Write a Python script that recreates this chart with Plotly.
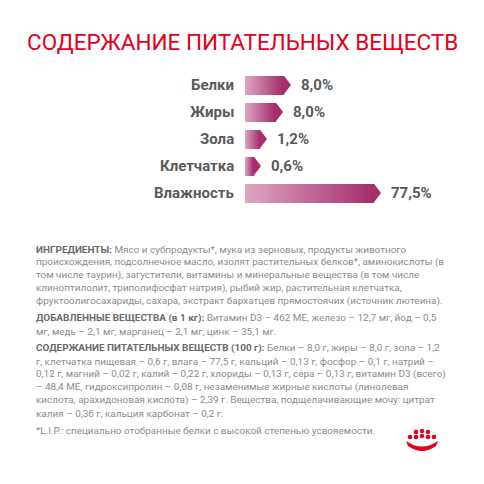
import plotly.graph_objects as go

# nutrient rows (value text and drawn bar length in px as in the picture)
nutrients = ["Белки", "Жиры", "Зола", "Клетчатка", "Влажность"]
values = ["8,0%", "8,0%", "1,2%", "0,6%", "77,5%"]
bar_len = [46, 38, 22, 16, 136]

title = "СОДЕРЖАНИЕ ПИТАТЕЛЬНЫХ ВЕЩЕСТВ"

text_lines = [
    "<b>ИНГРЕДИЕНТЫ:</b> Мясо и субпродукты*, мука из зерновых, продукты животного",
    "происхождения, подсолнечное масло, изолят растительных белков*, аминокислоты (в",
    "том числе таурин), загустители, витамины и минеральные вещества (в том числе",
    "клиноптилолит, триполифосфат натрия), рыбий жир, растительная клетчатка,",
    "фруктоолигосахариды, сахара, экстракт бархатцев прямостоячих (источник лютеина).",
    None,
    "<b>ДОБАВЛЕННЫЕ ВЕЩЕСТВА (в 1 кг):</b> Витамин D3 – 462 МЕ, железо – 12,7 мг, йод – 0,5",
    "мг, медь – 2,1 мг, марганец – 2,1 мг, цинк – 35,1 мг.",
    None,
    "<b>СОДЕРЖАНИЕ ПИТАТЕЛЬНЫХ ВЕЩЕСТВ (100 г):</b> Белки – 8,0 г, жиры – 8,0 г, зола – 1,2",
    "г, клетчатка пищевая – 0,6 г, влага – 77,5 г, кальций – 0,13 г, фосфор – 0,1 г, натрий –",
    "0,12 г, магний – 0,02 г, калий – 0,22 г, хлориды – 0,13 г, сера – 0,13 г, витамин D3 (всего)",
    "– 48,4 МЕ, гидроксипролин – 0,08 г, незаменимые жирные кислоты (линолевая",
    "кислота, арахидоновая кислота) – 2,39 г. Вещества, подщелачивающие мочу: цитрат",
    "калия – 0,36 г, кальция карбонат – 0,2 г.",
    None,
    "*L.I.P.: специально отобранные белки с высокой степенью усвояемости.",
]

W = H = 484
X0 = 245
rows = list(range(len(nutrients)))
row_y = [85 + 27 * i for i in rows]
tip = 7
rect = [l - tip for l in bar_len]

c0 = (220, 166, 195)
c1 = (166, 47, 107)
nseg = 30

fig = go.Figure()
for k in range(nseg):
    t = k / (nseg - 1)
    col = "rgb(%d,%d,%d)" % tuple(int(a + (b - a) * t) for a, b in zip(c0, c1))
    fig.add_trace(go.Bar(x=[r / nseg for r in rect], y=rows, orientation="h",
                         marker=dict(color=col, line=dict(width=0)), width=0.68,
                         hoverinfo="skip", showlegend=False))

for i, r in enumerate(rect):
    fig.add_shape(type="path", xref="x", yref="y",
                  path=f"M {r},{i-0.34} L {r+tip},{i} L {r},{i+0.34} Z",
                  fillcolor="rgb(166,47,107)", line=dict(width=0))
    fig.add_annotation(x=(X0 - 9) / W, y=1 - row_y[i] / H, xref="paper", yref="paper",
                       text=f"<b>{nutrients[i]}</b>", xanchor="right", yanchor="middle",
                       showarrow=False, font=dict(family="Roboto", size=15, color="#5a5a5a"))
    fig.add_annotation(x=bar_len[i] + 8, y=i, xref="x", yref="y", text=f"<b>{values[i]}</b>",
                       xanchor="left", yanchor="middle", showarrow=False,
                       font=dict(family="Roboto", size=15, color="#5a5a5a"))

fig.add_annotation(x=0.5, y=1 - 42 / H, xref="paper", yref="paper", text=title,
                   showarrow=False, xanchor="center", yanchor="middle",
                   font=dict(family="Roboto", size=22.5, color="#e2001a"))

y = 249
for line in text_lines:
    if line is None:
        y += 4
        continue
    fig.add_annotation(x=34 / W, y=1 - y / H, xref="paper", yref="paper",
                       text=line.replace("<b>", "<b><span style='color:#6a6a6a'>").replace("</b>", "</span></b>"),
                       showarrow=False, xanchor="left", yanchor="middle",
                       font=dict(family="Roboto", size=9.95, color="#8c8c8c"))
    y += 13

# crown logo
dots = [(416, 432), (422, 431), (428, 432), (410, 437), (416, 437), (422, 436), (428, 437), (434, 437)]
for cx, cy in dots:
    fig.add_shape(type="circle", xref="paper", yref="paper",
                  x0=(cx - 2.3) / W, x1=(cx + 2.3) / W, y0=1 - (cy + 2.3) / H, y1=1 - (cy - 2.3) / H,
                  fillcolor="#e2001a", line=dict(width=0))
fig.add_shape(type="path", xref="paper", yref="paper",
              path=f"M {406/W},{1-441/H} Q {422/W},{1-452/H} {438/W},{1-441/H} L {436/W},{1-446/H} Q {422/W},{1-456/H} {408/W},{1-446/H} Z",
              fillcolor="#e2001a", line=dict(width=0))

fig.update_layout(
    width=W, height=H, margin=dict(l=0, r=0, t=0, b=0),
    paper_bgcolor="white", plot_bgcolor="white", barmode="stack", bargap=0,
    xaxis=dict(domain=[X0 / W, 1], range=[0, W - X0], visible=False, fixedrange=True),
    yaxis=dict(domain=[1 - (row_y[-1] + 13.5) / H, 1 - (row_y[0] - 13.5) / H],
               range=[4.5, -0.5], visible=False),
)

fig.write_html("out.html", config={"displayModeBar": False},
               post_script="document.body.style.margin='0';document.body.style.overflow='hidden';")
